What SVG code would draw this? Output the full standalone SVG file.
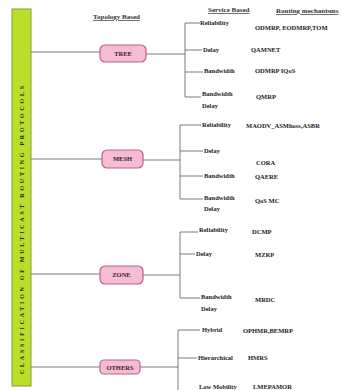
<svg xmlns="http://www.w3.org/2000/svg" width="343" height="390" viewBox="0 0 343 390">
<style>
.t{font-family:"Liberation Serif",serif;font-size:6.5px;font-weight:bold;fill:#222}
.h{font-family:"Liberation Serif",serif;font-size:7px;font-weight:bold;fill:#333;text-decoration:underline}
.n{font-family:"Liberation Serif",serif;font-size:6.5px;font-weight:bold;fill:#3a2030;text-anchor:middle}
.box{fill:#f6bcd4;stroke:#b8608a;stroke-width:1.2}
.ln{stroke:#7a7a7a;stroke-width:1;fill:none}
</style>
<rect width="343" height="390" fill="#ffffff"/>
<g id="title">
<rect x="12" y="9" width="19" height="377" fill="#b8e02a" stroke="#8a9a3a" stroke-width="1"/>
<text class="t" transform="translate(23.5,230) rotate(-90)" text-anchor="middle" textLength="288" lengthAdjust="spacing" style="font-size:6px">CLASSIFICATION OF MULTICAST ROUTING PROTOCOLS</text>
</g>
<g id="headers">
<text class="h" x="93" y="19">Topology Based</text>
<text class="h" x="208" y="12">Service Based</text>
<text class="h" x="276" y="13">Routing mechanisms</text>
</g>
<g id="connectors">
<path class="ln" d="M31 52H100M31 159H102M31 274H100M31 367H100"/>
<path class="ln" d="M146 54H185M185 23V97M185 23H200M185 50H202M185 72H203M185 97H201"/>
<path class="ln" d="M143 160H180M180 125V199M180 125H201M180 151H203M180 176H203M180 199H203"/>
<path class="ln" d="M143 275H180M180 232V298M180 232H198M180 254H195M180 298H200"/>
<path class="ln" d="M140 367H178M178 330V390M178 330H200M178 358H197"/>
</g>
<g id="tree">
<rect class="box" x="100" y="45" width="46" height="17" rx="5"/>
<text class="n" x="123" y="56">TREE</text>
<text class="t" x="200" y="25">Reliability</text>
<text class="t" x="203" y="52">Delay</text>
<text class="t" x="204" y="73">Bandwidth</text>
<text class="t" x="202" y="96">Bandwidth</text>
<text class="t" x="202" y="108">Delay</text>
<text class="t" x="255" y="30">ODMRP, EODMRP,TOM</text>
<text class="t" x="251" y="52">QAMNET</text>
<text class="t" x="255" y="73">ODMRP IQoS</text>
<text class="t" x="256" y="99">QMRP</text>
</g>
<g id="mesh">
<rect class="box" x="102" y="150" width="41" height="18" rx="5"/>
<text class="n" x="122.5" y="161">MESH</text>
<text class="t" x="202" y="127">Reliability</text>
<text class="t" x="204" y="153">Delay</text>
<text class="t" x="204" y="178">Bandwidth</text>
<text class="t" x="204" y="200">Bandwidth</text>
<text class="t" x="204" y="211">Delay</text>
<text class="t" x="246" y="128">MAODV_ASMhoss,ASBR</text>
<text class="t" x="256" y="165">CORA</text>
<text class="t" x="255" y="179">QAERE</text>
<text class="t" x="255" y="203">QoS MC</text>
</g>
<g id="zone">
<rect class="box" x="100" y="266" width="43" height="18" rx="5"/>
<text class="n" x="121.5" y="277">ZONE</text>
<text class="t" x="199" y="232">Reliability</text>
<text class="t" x="196" y="256">Delay</text>
<text class="t" x="201" y="299">Bandwidth</text>
<text class="t" x="201" y="311">Delay</text>
<text class="t" x="252" y="234">DCMP</text>
<text class="t" x="255" y="257">MZRP</text>
<text class="t" x="255" y="302">MRDC</text>
</g>
<g id="others">
<rect class="box" x="100" y="360" width="40" height="14" rx="4"/>
<text class="n" x="120" y="369.5">OTHERS</text>
<text class="t" x="202" y="332">Hybrid</text>
<text class="t" x="198" y="360">Hierarchical</text>
<text class="t" x="199" y="389">Low Mobility</text>
<text class="t" x="243" y="333">OPHMR,BEMRP</text>
<text class="t" x="248" y="360">HMRS</text>
<text class="t" x="253" y="389">LMEPAMOR</text>
</g>
</svg>
